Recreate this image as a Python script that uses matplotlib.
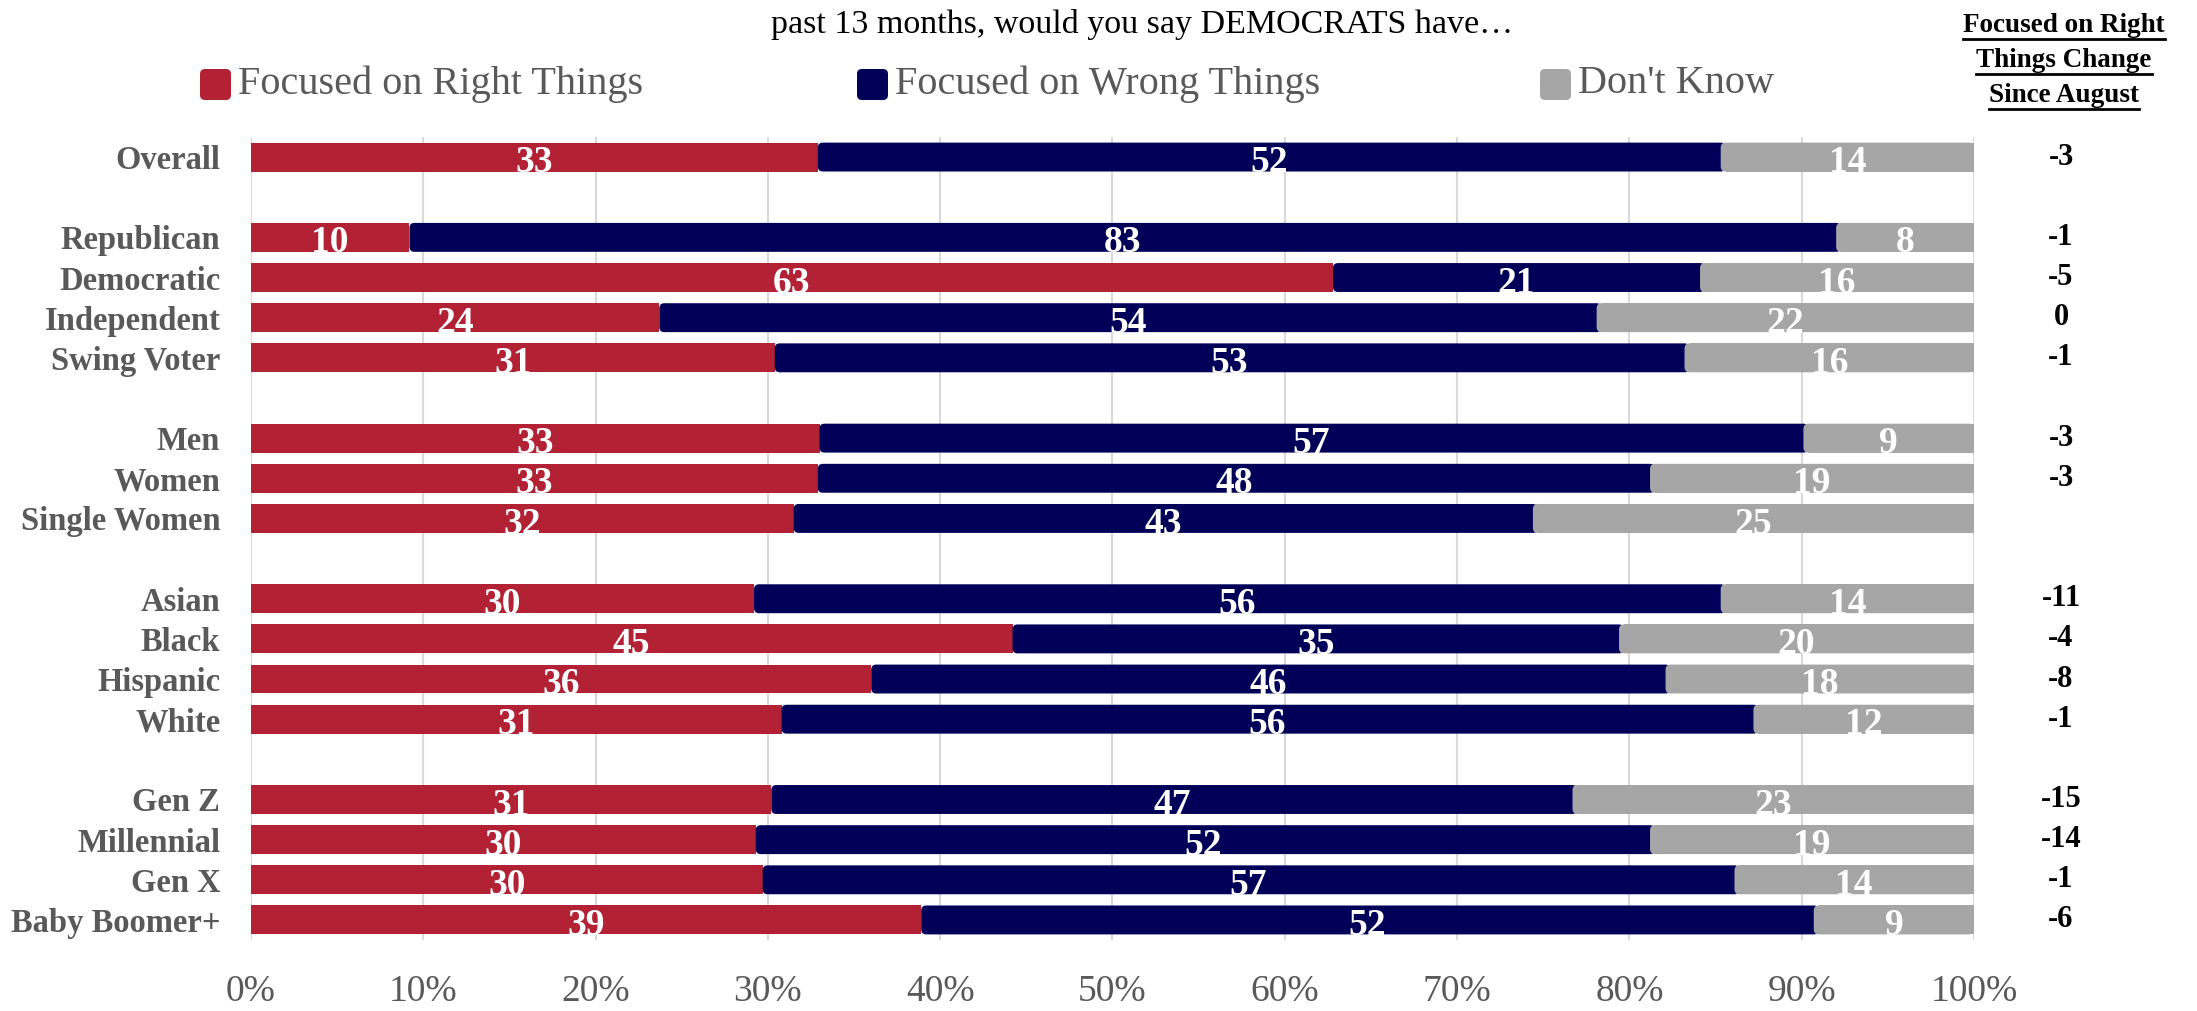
import matplotlib
matplotlib.use('Agg')
import matplotlib.pyplot as plt
from matplotlib.patches import FancyBboxPatch
from matplotlib.lines import Line2D
from matplotlib.transforms import IdentityTransform, blended_transform_factory

plt.rcParams['font.family'] = ['Liberation Serif', 'DejaVu Serif']

categories = ['Overall',
              'Republican', 'Democratic', 'Independent', 'Swing Voter',
              'Men', 'Women', 'Single Women',
              'Asian', 'Black', 'Hispanic', 'White',
              'Gen Z', 'Millennial', 'Gen X', 'Baby Boomer+']
group_sizes = [1, 4, 3, 4, 4]

# segment widths (percent)
right_pct = [32.9, 9.2, 62.8, 23.7, 30.4, 33.0, 32.9, 31.5, 29.2, 44.2, 36.0, 30.8, 30.2, 29.3, 29.7, 38.9]
wrong_pct = [52.4, 82.8, 21.3, 54.4, 52.8, 57.1, 48.3, 42.9, 56.1, 35.2, 46.1, 56.4, 46.5, 51.9, 56.4, 51.8]
dk_pct = [14.7, 8.0, 15.9, 21.9, 16.8, 9.9, 18.8, 25.6, 14.7, 20.6, 17.9, 12.8, 23.3, 18.8, 13.9, 9.3]

# printed labels
right_lbl = [33, 10, 63, 24, 31, 33, 33, 32, 30, 45, 36, 31, 31, 30, 30, 39]
wrong_lbl = [52, 83, 21, 54, 53, 57, 48, 43, 56, 35, 46, 56, 47, 52, 57, 52]
dk_lbl = [14, 8, 16, 22, 16, 9, 19, 25, 14, 20, 18, 12, 23, 19, 14, 9]

change = ['-3', '-1', '-5', '0', '-1', '-3', '-3', '', '-11', '-4', '-8', '-1', '-15', '-14', '-1', '-6']

series_names = ['Focused on Right Things', 'Focused on Wrong Things', "Don't Know"]
colors = ['#B22234', '#000059', '#A6A6A6']
header_lines = ['Focused on Right', 'Things Change', 'Since August']
x_ticks = [0, 10, 20, 30, 40, 50, 60, 70, 80, 90, 100]

GRAY_TXT = '#595959'

# row positions with a blank row between groups
pos = []
r = 0
for g in group_sizes:
    for i in range(g):
        pos.append(r)
        r += 1
    r += 1
nrows = r - 1

fig = plt.figure(figsize=(21.97, 10.11), dpi=100)
ax = fig.add_axes([0.1142, 0.0702, 0.7843, 0.7943])
ax.set_xlim(0, 100)
ax.set_ylim(nrows - 0.5, -0.5)

h = 0.72
rad = 0.29          # corner radius in x units
asp = 0.43          # y-units per x-unit for round corners

for i, y in enumerate(pos):
    a = right_pct[i]
    b = wrong_pct[i]
    c = dk_pct[i]
    ax.barh(y, a, height=h, left=0, color=colors[0], zorder=2)
    p = FancyBboxPatch((a, y - h / 2), b + rad, h,
                       boxstyle='round,pad=0,rounding_size=%g' % rad,
                       mutation_aspect=asp, fc=colors[1], ec='none', zorder=3)
    ax.add_patch(p)
    p = FancyBboxPatch((a + b, y - h / 2), 100 - a - b, h,
                       boxstyle='round,pad=0,rounding_size=%g' % rad,
                       mutation_aspect=asp, fc=colors[2], ec='none', zorder=4)
    ax.add_patch(p)
    ax.barh(y, 100 - a - b - rad, height=h, left=a + b + rad, color=colors[2], zorder=4)

    for lft, w, lbl in [(0, a, right_lbl[i]), (a, b, wrong_lbl[i]), (a + b, c, dk_lbl[i])]:
        ax.text(lft + w / 2, y + 0.14, str(lbl), ha='center', va='center',
                color='white', fontsize=27, fontweight='bold', zorder=6)

trans = blended_transform_factory(ax.transAxes, ax.transData)
for i, y in enumerate(pos):
    ax.text(1.0505, y, change[i], transform=trans, ha='center', va='center',
            fontsize=22, fontweight='bold', color='black')

ax.set_yticks(pos)
ax.set_yticklabels(categories, fontsize=23.5, fontweight='bold', color=GRAY_TXT)
ax.set_xticks(x_ticks)
ax.set_xticklabels(['%d%%' % t for t in x_ticks], fontsize=27, color=GRAY_TXT)
ax.tick_params(axis='y', length=0, pad=22)
ax.tick_params(axis='x', length=0, pad=25)
ax.grid(axis='x', color='#D9D9D9', linewidth=1.5, zorder=0)
ax.set_axisbelow(True)
for s in ax.spines.values():
    s.set_visible(False)

# title fragment
fig.text(0.52, 0.976, 'past 13 months, would you say DEMOCRATS have\u2026',
         ha='center', va='center', fontsize=24.5, color='black')

# legend
leg_x = [200, 857, 1540]
for k in range(3):
    sq = FancyBboxPatch((leg_x[k], 1011 - 100), 31, 31,
                        boxstyle='round,pad=0,rounding_size=5',
                        fc=colors[k], ec='none', transform=IdentityTransform())
    fig.add_artist(sq)
    fig.text((leg_x[k] + 38) / 2197, 0.917, series_names[k], ha='left', va='center',
             fontsize=29, color=GRAY_TXT)

# right-hand header with underlines
hdr = []
for j, t in enumerate(header_lines):
    hdr.append(fig.text(0.9395, 0.975 - j * 0.0345, t, ha='center', va='center',
                        fontsize=19.5, fontweight='bold', color='black'))
fig.canvas.draw()
rend = fig.canvas.get_renderer()
for t in hdr:
    bb = t.get_window_extent(rend)
    fig.add_artist(Line2D([bb.x0, bb.x1], [bb.y0 - 1, bb.y0 - 1], color='black',
                          linewidth=2, transform=IdentityTransform()))

fig.savefig('out.png', dpi=100)
